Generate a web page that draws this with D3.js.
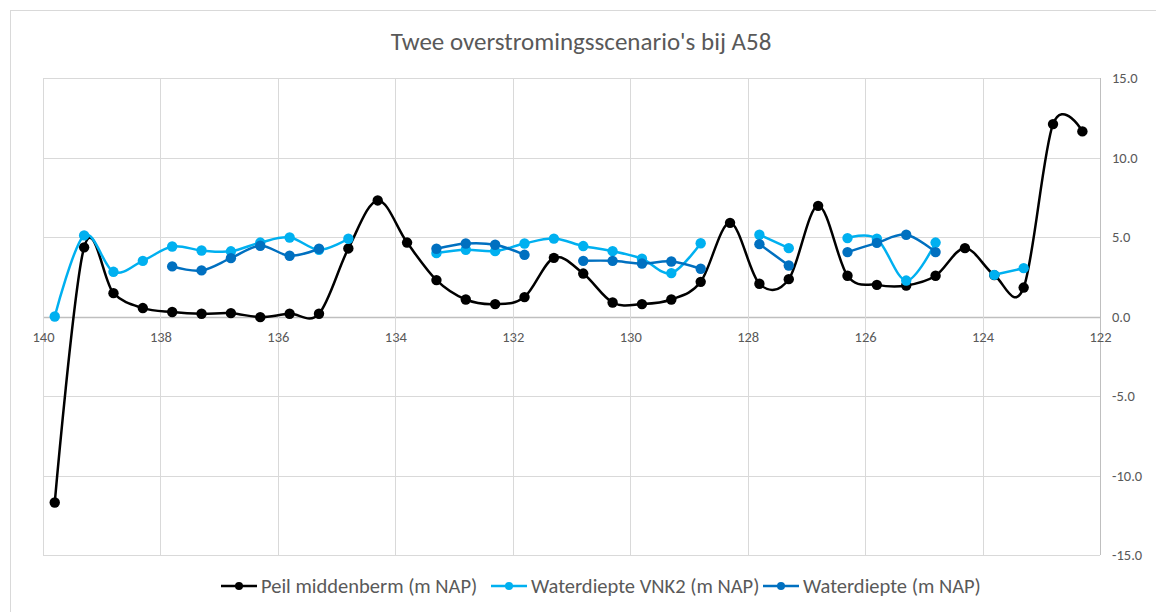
<!DOCTYPE html>
<html><head><meta charset="utf-8">
<script src="https://cdn.jsdelivr.net/npm/d3@7"></script>
<style>body{margin:0;background:#fff;} svg{display:block;}</style>
</head><body>
<svg id="c" width="1156" height="612"></svg>
<script>
const xValues = [139.8,139.3,138.8,138.3,137.8,137.3,136.8,136.3,135.8,135.3,134.8,134.3,133.8,133.3,132.8,132.3,131.8,131.3,130.8,130.3,129.8,129.3,128.8,128.3,127.8,127.3,126.8,126.3,125.8,125.3,124.8,124.3,123.8,123.3,122.8,122.3];
const peilMiddenberm = [-11.7,4.35,1.47,0.53,0.28,0.17,0.21,-0.04,0.17,0.17,4.28,7.3,4.65,2.29,1.07,0.78,1.22,3.69,2.7,0.88,0.78,1.07,2.18,5.89,2.06,2.35,6.96,2.56,1.99,1.95,2.56,4.3,2.6,1.82,12.1,11.64];
const waterdiepteVNK2 = [0.0,5.1,2.81,3.5,4.4,4.15,4.1,4.65,4.97,4.2,4.89,null,null,3.99,4.2,4.11,4.59,4.9,4.43,4.11,3.63,2.73,4.61,null,5.14,4.3,null,4.93,4.89,2.26,4.65,null,2.62,3.04,null,null];
const waterdiepte = [null,null,null,null,3.15,2.9,3.67,4.45,3.82,4.26,null,null,null,4.26,4.59,4.51,3.88,null,3.5,3.5,3.33,3.46,3.0,null,4.55,3.21,null,4.05,4.63,5.14,4.05,null,null,null,null,null];
const xTicks = [140,138,136,134,132,130,128,126,124,122];
const yTicks = [15,10,5,0,-5,-10,-15];
const seriesNames = ["Peil middenberm (m NAP)","Waterdiepte VNK2 (m NAP)","Waterdiepte (m NAP)"];
const seriesColors = ["#000000","#00B0F0","#0070C0"];
const title = "Twee overstromingsscenario's bij A58";

const svg = d3.select("#c");
const font = "Calibri, Carlito, Lato, 'Open Sans', sans-serif";
const textColor = "#595959";

svg.append("rect").attr("x",10.5).attr("y",10.5).attr("width",1160).attr("height",620)
  .attr("fill","#fff").attr("stroke","#d9d9d9").attr("stroke-width",1);

const L=43, R=1100, T=78, B=555;
const x = d3.scaleLinear().domain([140,122]).range([L,R]);
const y = d3.scaleLinear().domain([-15,15]).range([B,T]);

// grid
const g = svg.append("g");
g.selectAll(".hg").data(yTicks).join("line")
  .attr("x1",L).attr("x2",R).attr("y1",d=>Math.round(y(d))+0.5).attr("y2",d=>Math.round(y(d))+0.5)
  .attr("stroke",d=>d===0?"#bfbfbf":"#d9d9d9").attr("stroke-width",d=>d===0?1.5:1);
g.selectAll(".vg").data(xTicks).join("line")
  .attr("x1",d=>Math.round(x(d))+0.5).attr("x2",d=>Math.round(x(d))+0.5).attr("y1",T).attr("y2",B)
  .attr("stroke",d=>d===122?"#bfbfbf":"#d9d9d9").attr("stroke-width",1);

// x axis labels below zero line
const xAxis = d3.axisBottom(x).tickValues(xTicks).tickFormat(d3.format("d")).tickSize(0).tickPadding(15);
const xa = svg.append("g").attr("transform",`translate(0,${y(0)})`).call(xAxis);
xa.select(".domain").remove();
xa.selectAll("text").attr("fill",textColor).style("font-family",font).style("font-size","14.5px");

// y axis labels on right
const fmt = d3.format(".1f");
const yAxis = d3.axisRight(y).tickValues(yTicks).tickFormat(d=>fmt(d).replace("\u2212","-")).tickSize(0).tickPadding(12);
const ya = svg.append("g").attr("transform",`translate(${R},0)`).call(yAxis);
ya.select(".domain").remove();
ya.selectAll("text").attr("fill",textColor).style("font-family",font).style("font-size","14.5px");

// title
svg.append("text").attr("x",581).attr("y",50).attr("text-anchor","middle")
  .attr("fill",textColor).style("font-family",font).style("font-size","25px").text(title);

// series
const allSeries = [peilMiddenberm, waterdiepteVNK2, waterdiepte];
allSeries.forEach((vals,i)=>{
  const pts = xValues.map((xv,j)=>({x:xv,y:vals[j]}));
  const line = d3.line().defined(d=>d.y!==null).x(d=>x(d.x)).y(d=>y(d.y)).curve(d3.curveCatmullRom.alpha(0));
  svg.append("path").datum(pts).attr("d",line).attr("fill","none")
    .attr("stroke",seriesColors[i]).attr("stroke-width",2.5).attr("stroke-linejoin","round");
  svg.append("g").selectAll("circle").data(pts.filter(d=>d.y!==null)).join("circle")
    .attr("cx",d=>x(d.x)).attr("cy",d=>y(d.y)).attr("r",5.2).attr("fill",seriesColors[i]);
});

// legend
const legendX = [221, 491, 763];
const ly = 586;
seriesNames.forEach((n,i)=>{
  const lg = svg.append("g").attr("transform",`translate(${legendX[i]},${ly})`);
  lg.append("line").attr("x1",0).attr("x2",36).attr("y1",0).attr("y2",0).attr("stroke",seriesColors[i]).attr("stroke-width",2.5);
  lg.append("circle").attr("cx",18).attr("cy",0).attr("r",4).attr("fill",seriesColors[i]);
  lg.append("text").attr("x",40).attr("y",0).attr("dy","0.35em").attr("fill",textColor)
    .style("font-family",font).style("font-size","20.5px").text(n);
});
</script>
</body></html>
